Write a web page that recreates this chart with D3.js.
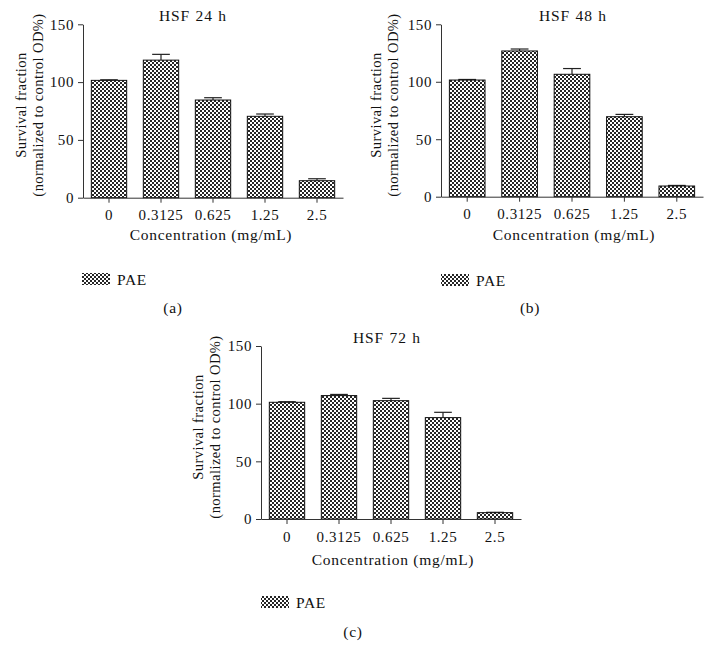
<!DOCTYPE html>
<html>
<head>
<meta charset="utf-8">
<script src="https://cdn.jsdelivr.net/npm/d3@7"></script>
<style>
  body { margin: 0; background: #fff; }
  text { font-family: "Liberation Serif", "Times New Roman", serif; font-size: 15.5px; letter-spacing: 0.7px; fill: #111; }
  text.ylab { font-size: 14.5px; letter-spacing: 0.45px; }
  text.title { font-size: 15.5px; letter-spacing: 0.8px; word-spacing: 1px; }
  .axis path, .axis line { stroke: #333; stroke-width: 1; }
  .axis text { font-family: "Liberation Serif", serif; font-size: 15px; letter-spacing: 0.6px; fill: #111; }
</style>
</head>
<body>
<svg id="chart" width="712" height="665"></svg>
<script>
// Data
const concentrations = ["0", "0.3125", "0.625", "1.25", "2.5"];
const yTicks = [0, 50, 100, 150];

const values24 = [101.5, 119, 84.5, 70.4, 14.7];
const err24 = [0.5, 5, 2, 2, 1.7];
const values48 = [101.5, 126.8, 106.5, 69.6, 9.3];
const err48 = [0.5, 1.7, 5, 2, 0.5];
const values72 = [101.2, 107, 102.6, 87.9, 5.5];
const err72 = [0.5, 1, 2, 4.6, 0.3];

const titles = ["HSF 24 h", "HSF 48 h", "HSF 72 h"];
const subLabels = ["(a)", "(b)", "(c)"];

// Panel layouts (pixels)
const panels = [
  {vals: values24, errs: err24, x0: 83, x1: 343, yTop: 24.3, yBot: 197.7, titleX: 193,
   ylabX: 21, ylabY: 105, xlabX: 211, xlabY: 240, legX: 82, legY: 273, subX: 173, subY: 313},
  {vals: values48, errs: err48, x0: 441, x1: 703, yTop: 24.3, yBot: 196.7, titleX: 573,
   ylabX: 376, ylabY: 105, xlabX: 574, xlabY: 240, legX: 441, legY: 274, subX: 530, subY: 313},
  {vals: values72, errs: err72, x0: 261, x1: 521, yTop: 346, yBot: 519, titleX: 387,
   ylabX: 198, ylabY: 427, xlabX: 393, xlabY: 565, legX: 261, legY: 596, subX: 353, subY: 637}
];

const svg = d3.select("#chart");

// checkered fill
const pat = svg.append("defs").append("pattern")
    .attr("id", "check")
    .attr("patternUnits", "userSpaceOnUse")
    .attr("width", 4).attr("height", 4);
pat.append("rect").attr("width", 4).attr("height", 4).attr("fill", "#262626");
pat.append("rect").attr("x", 0).attr("y", 0).attr("width", 2).attr("height", 2).attr("fill", "#fff");
pat.append("rect").attr("x", 2).attr("y", 2).attr("width", 2).attr("height", 2).attr("fill", "#fff");

panels.forEach((p, k) => {
    let g = svg.append("g");

    let x = d3.scaleBand()
        .domain(concentrations)
        .range([p.x0, p.x1])
        .paddingInner(0.32)
        .paddingOuter(0.16);
    let y = d3.scaleLinear().domain([0, 150]).range([p.yBot, p.yTop]);

    let data = concentrations.map((c, i) => ({c: c, v: p.vals[i], e: p.errs[i]}));

    // error bars (upper only)
    let capW = x.bandwidth() * 0.5;
    let eb = g.selectAll(".err").data(data).enter().append("g").attr("class", "err");
    eb.append("line")
        .attr("x1", d => x(d.c) + x.bandwidth() / 2)
        .attr("x2", d => x(d.c) + x.bandwidth() / 2)
        .attr("y1", d => y(d.v))
        .attr("y2", d => y(d.v + d.e))
        .attr("stroke", "#222").attr("stroke-width", 1.2);
    eb.append("line")
        .attr("x1", d => x(d.c) + x.bandwidth() / 2 - capW / 2)
        .attr("x2", d => x(d.c) + x.bandwidth() / 2 + capW / 2)
        .attr("y1", d => y(d.v + d.e))
        .attr("y2", d => y(d.v + d.e))
        .attr("stroke", "#222").attr("stroke-width", 1.2);

    // bars
    g.selectAll(".bar").data(data).enter().append("rect")
        .attr("class", "bar")
        .attr("x", d => x(d.c))
        .attr("y", d => y(d.v))
        .attr("width", x.bandwidth())
        .attr("height", d => y(0) - y(d.v))
        .attr("fill", "url(#check)")
        .attr("stroke", "#111")
        .attr("stroke-width", 1);

    // axes
    g.append("g").attr("class", "axis")
        .attr("transform", `translate(${p.x0},0)`)
        .call(d3.axisLeft(y).tickValues(yTicks).tickSize(5).tickSizeOuter(0).tickPadding(4));
    g.append("g").attr("class", "axis")
        .attr("transform", `translate(0,${p.yBot})`)
        .call(d3.axisBottom(x).tickSize(5).tickSizeOuter(0).tickPadding(7));

    // title
    g.append("text")
        .attr("class", "title")
        .attr("x", p.titleX).attr("y", p.yTop - 3)
        .attr("text-anchor", "middle")
        .text(titles[k]);

    // y label (two lines)
    let yl = g.append("text")
        .attr("class", "ylab")
        .attr("transform", `translate(${p.ylabX},${p.ylabY}) rotate(-90)`)
        .attr("text-anchor", "middle");
    yl.append("tspan").attr("x", 0).attr("y", 0).attr("dy", "0.35em").text("Survival fraction");
    yl.append("tspan").attr("x", 0).attr("y", 16.5).attr("dy", "0.35em").text("(normalized to control OD%)");

    // x label
    g.append("text")
        .attr("x", p.xlabX).attr("y", p.xlabY)
        .attr("text-anchor", "middle")
        .text("Concentration (mg/mL)");

    // legend
    g.append("rect")
        .attr("x", p.legX).attr("y", p.legY)
        .attr("width", 28).attr("height", 12)
        .attr("fill", "url(#check)");
    g.append("text")
        .attr("x", p.legX + 35).attr("y", p.legY + 12)
        .text("PAE");

    // panel letter
    g.append("text")
        .attr("x", p.subX).attr("y", p.subY)
        .attr("text-anchor", "middle")
        .text(subLabels[k]);
});
</script>
</body>
</html>
